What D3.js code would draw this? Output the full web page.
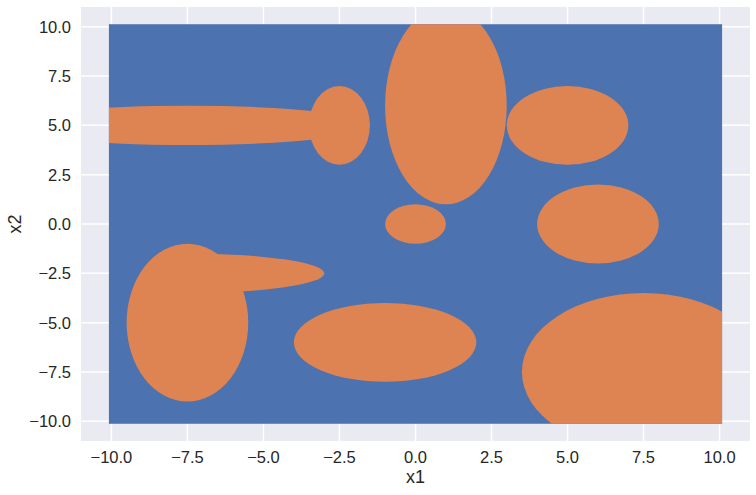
<!DOCTYPE html>
<html>
  <head>
    <meta charset="utf-8" />
    <title>x1 vs x2</title>
    <script src="https://d3js.org/d3.v7.min.js"></script>
    <style>
      body { margin: 0; background: white; }
      text { font-family: "Liberation Sans", Arial, sans-serif; fill: #262626; }
    </style>
  </head>
  <body>
    <svg id="chart" width="756" height="495"></svg>
  </body>
  <script>
    // grid of sampled points runs from -10 to 10 on both axes
    var gridMin = -10;
    var gridMax = 10;

    // orange regions (class 1), one ellipse each
    var ellipseCx = [1, 0, -2.5, -7.5, 5, 6, -1, 7.5, -7.5, -7.5];
    var ellipseCy = [6, 0, 5, 5, 5, 0, -6, -7.5, -5, -2.5];
    var ellipseRx = [2, 1, 1, 6, 2, 2, 3, 4, 2, 4.5];
    var ellipseRy = [5, 1, 2, 1, 2, 2, 2, 4, 4, 1];
    // region only kept to the right of this x (the last one is a half ellipse)
    var ellipseXFrom = [-10, -10, -10, -10, -10, -10, -10, -10, -10, -7.5];

    var xTicks = [-10, -7.5, -5, -2.5, 0, 2.5, 5, 7.5, 10];
    var yTicks = [-10, -7.5, -5, -2.5, 0, 2.5, 5, 7.5, 10];

    var blue = "#4c72b0";
    var orange = "#dd8452";

    var svg = d3.select("#chart");
    // note: "top" is taken by window.top, so use other names
    var plotLeft = 81, plotRight = 750, plotTop = 7, plotBottom = 441;

    var x = d3.scaleLinear().domain([-11, 11]).range([plotLeft, plotRight]);
    var y = d3.scaleLinear().domain([-11, 11]).range([plotBottom, plotTop]);

    // axes background
    svg.append("rect")
      .attr("x", plotLeft)
      .attr("y", plotTop)
      .attr("width", plotRight - plotLeft)
      .attr("height", plotBottom - plotTop)
      .attr("fill", "#eaeaf2");

    // white grid
    svg.selectAll(".vgrid")
      .data(xTicks)
      .enter().append("line")
      .attr("class", "vgrid")
      .attr("x1", function(d){ return x(d); })
      .attr("x2", function(d){ return x(d); })
      .attr("y1", plotTop)
      .attr("y2", plotBottom)
      .attr("stroke", "white")
      .attr("stroke-width", 1.5);

    svg.selectAll(".hgrid")
      .data(yTicks)
      .enter().append("line")
      .attr("class", "hgrid")
      .attr("y1", function(d){ return y(d); })
      .attr("y2", function(d){ return y(d); })
      .attr("x1", plotLeft)
      .attr("x2", plotRight)
      .attr("stroke", "white")
      .attr("stroke-width", 1.5);

    // markers stick out a little past the last grid point
    var pad = 2.5;
    var gx0 = x(gridMin) - pad, gx1 = x(gridMax) + pad;
    var gy0 = y(gridMax) - pad, gy1 = y(gridMin) + pad;

    svg.append("rect")
      .attr("x", gx0)
      .attr("y", gy0)
      .attr("width", gx1 - gx0)
      .attr("height", gy1 - gy0)
      .attr("fill", blue);

    var regions = ellipseCx.map(function(cx, i){
      return { id: i, cx: cx, cy: ellipseCy[i], rx: ellipseRx[i], ry: ellipseRy[i], from: ellipseXFrom[i] };
    });

    var defs = svg.append("defs");
    defs.selectAll("clipPath")
      .data(regions)
      .enter().append("clipPath")
      .attr("id", function(d){ return "clip" + d.id; })
      .append("rect")
      .attr("x", function(d){ return d.from <= gridMin ? gx0 : x(d.from); })
      .attr("y", gy0)
      .attr("width", function(d){ return gx1 - (d.from <= gridMin ? gx0 : x(d.from)); })
      .attr("height", gy1 - gy0);

    svg.append("g")
      .selectAll("ellipse")
      .data(regions)
      .enter().append("ellipse")
      .attr("clip-path", function(d){ return "url(#clip" + d.id + ")"; })
      .attr("cx", function(d){ return x(d.cx); })
      .attr("cy", function(d){ return y(d.cy); })
      .attr("rx", function(d){ return x(d.cx + d.rx) - x(d.cx); })
      .attr("ry", function(d){ return y(d.cy) - y(d.cy + d.ry); })
      .attr("fill", orange);

    // tick labels
    var fmt = d3.format(".1f");
    svg.selectAll(".xlab")
      .data(xTicks)
      .enter().append("text")
      .attr("class", "xlab")
      .attr("x", function(d){ return x(d); })
      .attr("y", plotBottom + 22)
      .attr("text-anchor", "middle")
      .style("font-size", "16.5px")
      .text(function(d){ return fmt(d).replace("-", "\u2212"); });

    svg.selectAll(".ylab")
      .data(yTicks)
      .enter().append("text")
      .attr("class", "ylab")
      .attr("x", plotLeft - 10)
      .attr("y", function(d){ return y(d); })
      .attr("dy", "0.36em")
      .attr("text-anchor", "end")
      .style("font-size", "16.5px")
      .text(function(d){ return fmt(d).replace("-", "\u2212"); });

    // axis titles
    svg.append("text")
      .attr("x", (plotLeft + plotRight) / 2)
      .attr("y", 483)
      .attr("text-anchor", "middle")
      .style("font-size", "18px")
      .text("x1");

    svg.append("text")
      .attr("transform", "translate(21," + ((plotTop + plotBottom) / 2) + ") rotate(-90)")
      .attr("text-anchor", "middle")
      .style("font-size", "18px")
      .text("x2");
  </script>
</html>
